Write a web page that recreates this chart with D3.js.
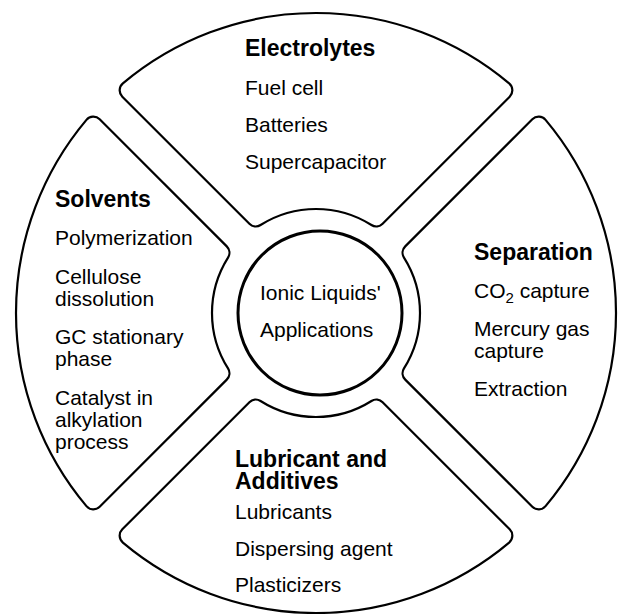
<!doctype html>
<html>
<head>
<meta charset="utf-8">
<script src="https://d3js.org/d3.v7.min.js"></script>
<style>
  body { margin: 0; background: #fff; }
  text { font-family: "Liberation Sans", Arial, sans-serif; fill: #000; }
  .title { font-weight: bold; font-size: 23px; }
  .item { font-size: 21px; }
</style>
</head>
<body>
<svg id="chart" width="622" height="614"></svg>
<script>
// sectors, clockwise from the top
var titles = ["Electrolytes", "Separation", "Lubricant and\nAdditives", "Solvents"];
var items = [
  ["Fuel cell", "Batteries", "Supercapacitor"],
  ["CO2 capture", "Mercury gas\ncapture", "Extraction"],
  ["Lubricants", "Dispersing agent", "Plasticizers"],
  ["Polymerization", "Cellulose\ndissolution", "GC stationary\nphase", "Catalyst in\nalkylation\nprocess"]
];
var hubLines = ["Ionic Liquids'", "Applications"];

// where each text block starts (left x, title baseline), gap after title, step between items
var textPos = [
  { x: 245, y: 56, gap: 39, step: 37 },
  { x: 474, y: 260, gap: 38, step: 38 },
  { x: 235, y: 467, gap: 30, step: 36.5 },
  { x: 55, y: 207, gap: 38, step: 38.5 }
];

var svg = d3.select("#chart"),
    cx = 316, cy = 313,
    rOuter = 300, rInner = 104, rHub = 82;

var pie = d3.pie()
    .value(function() { return 1; })
    .sort(null)
    .startAngle(-Math.PI / 4)
    .endAngle(2 * Math.PI - Math.PI / 4)
    .padAngle(32 / 300);

var arc = d3.arc()
    .innerRadius(rInner)
    .outerRadius(rOuter)
    .padRadius(300)
    .cornerRadius(9);

var g = svg.append("g").attr("transform", "translate(" + cx + "," + cy + ")");

g.selectAll("path.sector")
  .data(pie(titles))
  .enter().append("path")
  .attr("class", "sector")
  .attr("d", arc)
  .attr("fill", "#fff")
  .attr("stroke", "#000")
  .attr("stroke-width", 2.2);

// hub
svg.append("circle")
  .attr("cx", 320).attr("cy", 313).attr("r", rHub)
  .attr("fill", "#fff").attr("stroke", "#000").attr("stroke-width", 3);

svg.selectAll("text.hub")
  .data(hubLines)
  .enter().append("text")
  .attr("class", "item hub")
  .attr("x", 260)
  .attr("y", function(d, i) { return 300 + i * 37; })
  .text(function(d) { return d; });

function addLine(sel, str) {
  // CO2 gets a subscript
  var m = str.match(/^(.*CO)2(.*)$/);
  if (m) {
    sel.append("tspan").text(m[1]);
    sel.append("tspan").attr("font-size", "15px").attr("dy", 5).text("2");
    sel.append("tspan").attr("dy", -5).text(m[2]);
  } else {
    sel.text(str);
  }
}

titles.forEach(function(t, s) {
  var p = textPos[s], y = p.y;
  var tl = t.split("\n");
  tl.forEach(function(line, k) {
    if (k > 0) y += 22;
    svg.append("text").attr("class", "title").attr("x", p.x).attr("y", y).text(line);
  });
  y += p.gap;
  items[s].forEach(function(it, j) {
    if (j > 0) y += p.step;
    it.split("\n").forEach(function(line, k) {
      if (k > 0) y += 22;
      addLine(svg.append("text").attr("class", "item").attr("x", p.x).attr("y", y), line);
    });
  });
});
</script>
</body>
</html>
